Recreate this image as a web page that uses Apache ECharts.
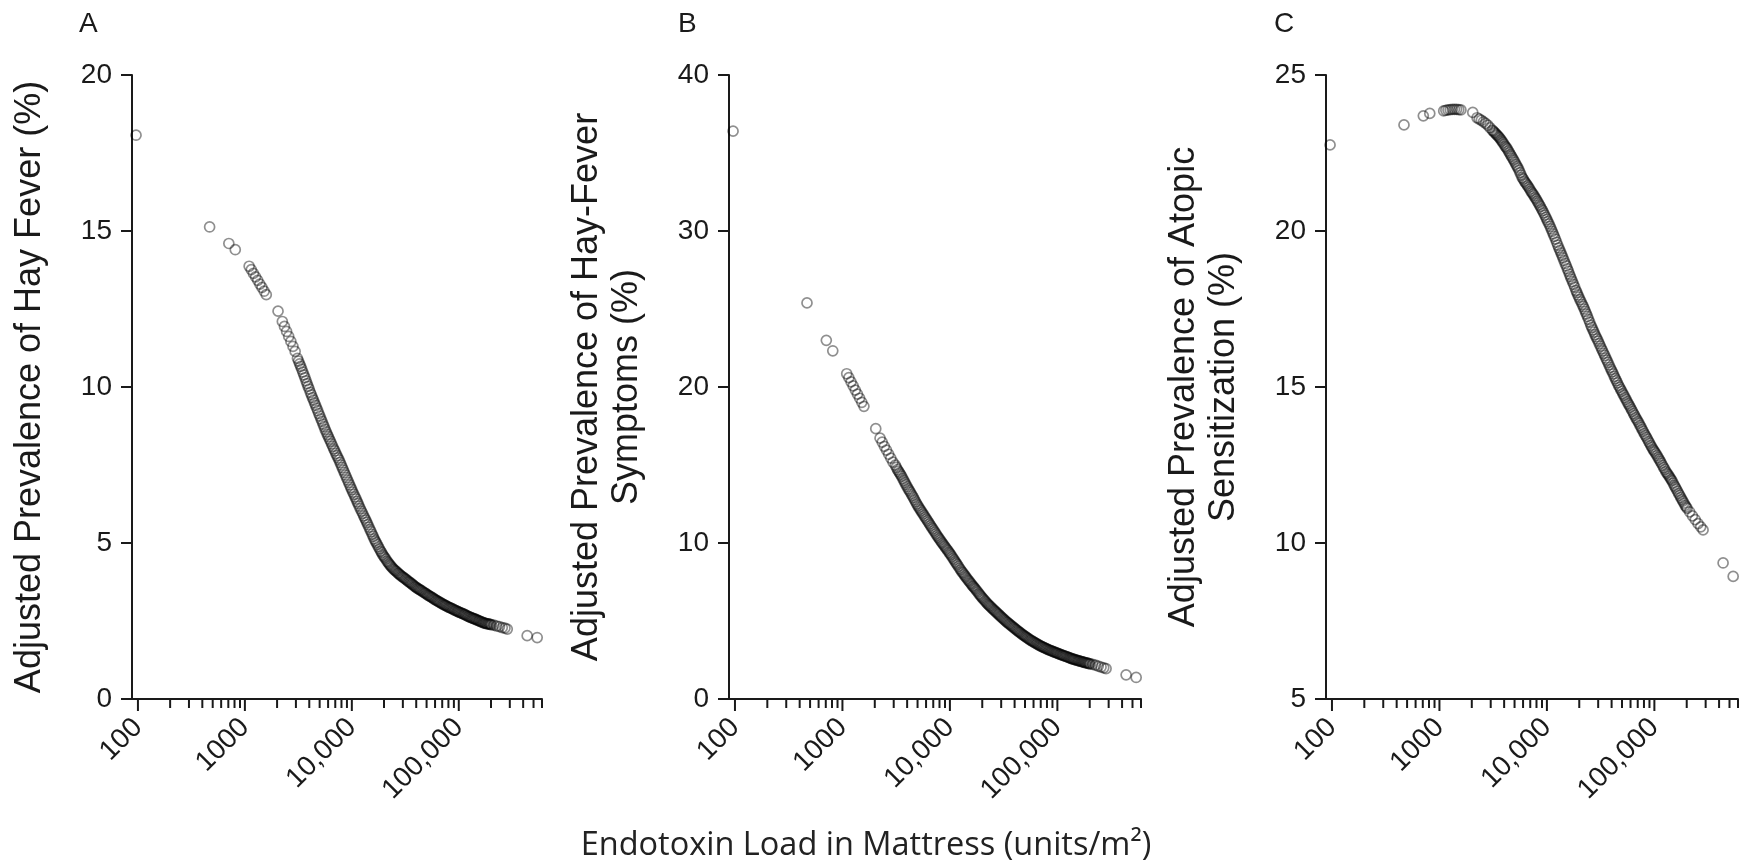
<!DOCTYPE html>
<html><head><meta charset="utf-8">
<script src="https://cdn.jsdelivr.net/npm/echarts@6/dist/echarts.min.js"></script>
<style>html,body{margin:0;padding:0;background:#fff}#c{width:1752px;height:864px}</style>
</head><body><div id="c"></div>
<script>
// Endotoxin load (units/m2), shared by all three panels (same children)
const endotoxin = [96, 468, 708, 813, 1096, 1148, 1202, 1259, 1318, 1380, 1445, 1514, 1585, 2042, 2239, 2344, 2455, 2570, 2692, 2818, 2951,
  3100, 3250, 3400, 3560, 3730, 3900, 4090, 4280, 4480, 4690,
  4910, 5140, 5380, 5630, 5900, 6170, 6460, 6770, 7090, 7420,
  7770, 8130, 8510, 8910, 9330, 9770, 10200, 10700, 11200, 11700,
  12300, 12900, 13500, 14100, 14800, 15500, 16200, 16900, 17700, 18600,
  19400, 20300, 21300, 22300, 23300, 24400, 25600, 26800, 28000, 29300,
  30700, 32200, 33700, 35300, 36900, 38700, 40500, 42400, 44300, 46400,
  48600, 50900, 53300, 55800, 58400, 61100, 64000, 67000, 70200, 73500,
  76900, 80500, 84300, 88300, 92400, 96800, 101000, 106000, 111000, 116000,
  122000, 128000, 134000, 140000, 146000, 153000, 160000, 168000, 176000, 184000,
  193000, 202000,
  213000, 226000, 240000, 255000, 270000, 284000, 436000, 541000,
  3175, 3325, 3480, 3645, 3815, 3995, 4185, 4380, 4585, 4800,
  5025, 5260, 5505, 5765, 6035, 6315, 6615, 6930, 7255, 7595,
  7950, 8320, 8710, 9120, 9550, 9985, 10450, 10950, 11450, 12000,
  12600, 13200, 13800, 14450, 15150, 15850, 16550, 17300, 18150, 19000,
  19850, 20800, 21800, 22800, 23850, 25000, 26200, 27400, 28650, 30000,
  31450, 32950, 34500, 36100, 37800, 39600, 41450, 43350, 45350, 47500,
  49750, 52100, 54550, 57100, 59750, 62550, 65500, 68600, 71850, 75200,
  78700, 82400, 86300, 90350, 94600, 98900, 103500, 108500, 113500, 119000,
  125000, 131000, 137000, 143000, 149500, 156500, 164000, 172000, 180000, 188500,
  197500];

const hayFever = [18.07, 15.13, 14.6, 14.4, 13.87, 13.76, 13.64, 13.53, 13.42, 13.30, 13.19, 13.07, 12.96, 12.43, 12.1, 11.94, 11.78, 11.62, 11.46, 11.3, 11.14,
  10.92, 10.74, 10.57, 10.39, 10.2, 10.02, 9.83, 9.66, 9.49, 9.32,
  9.15, 8.98, 8.81, 8.64, 8.48, 8.33, 8.18, 8.02, 7.87, 7.73,
  7.58, 7.42, 7.26, 7.1, 6.94, 6.78, 6.63, 6.48, 6.33, 6.18,
  6.02, 5.87, 5.73, 5.59, 5.43, 5.28, 5.13, 5.01, 4.88, 4.74,
  4.63, 4.53, 4.42, 4.33, 4.25, 4.17, 4.11, 4.04, 3.99, 3.93,
  3.88, 3.83, 3.77, 3.72, 3.67, 3.61, 3.56, 3.52, 3.48, 3.43,
  3.39, 3.34, 3.30, 3.26, 3.21, 3.17, 3.13, 3.09, 3.05, 3.01,
  2.98, 2.94, 2.91, 2.88, 2.84, 2.81, 2.78, 2.75, 2.72, 2.69,
  2.65, 2.62, 2.59, 2.57, 2.54, 2.51, 2.48, 2.45, 2.43, 2.41,
  2.40, 2.38,
  2.37, 2.34, 2.32, 2.29, 2.27, 2.24, 2.03, 1.97,
  10.83, 10.66, 10.48, 10.3, 10.11, 9.93, 9.75, 9.58, 9.41, 9.24,
  9.07, 8.9, 8.73, 8.56, 8.41, 8.26, 8.1, 7.95, 7.8, 7.66,
  7.5, 7.34, 7.18, 7.02, 6.86, 6.71, 6.56, 6.41, 6.26, 6.1,
  5.95, 5.8, 5.66, 5.51, 5.36, 5.21, 5.07, 4.95, 4.81, 4.69,
  4.58, 4.48, 4.38, 4.29, 4.21, 4.14, 4.08, 4.02, 3.96, 3.91,
  3.86, 3.8, 3.75, 3.7, 3.64, 3.59, 3.54, 3.5, 3.46, 3.41,
  3.37, 3.32, 3.28, 3.24, 3.19, 3.15, 3.11, 3.07, 3.03, 3.0,
  2.96, 2.93, 2.9, 2.86, 2.83, 2.8, 2.77, 2.74, 2.71, 2.67,
  2.64, 2.61, 2.58, 2.56, 2.53, 2.5, 2.47, 2.44, 2.42, 2.41,
  2.39];

const hayFeverSymptoms = [36.4, 25.39, 22.99, 22.32, 20.85, 20.6, 20.33, 20.07, 19.8, 19.54, 19.28, 19.02, 18.76, 17.33, 16.72, 16.46, 16.2, 15.95, 15.69, 15.44, 15.18,
  14.99, 14.71, 14.5, 14.27, 14.0, 13.74, 13.48, 13.26, 13.02, 12.77,
  12.51, 12.28, 12.07, 11.86, 11.64, 11.44, 11.22, 11.0, 10.79, 10.59,
  10.38, 10.18, 9.99, 9.8, 9.61, 9.42, 9.24, 9.02, 8.81, 8.61,
  8.38, 8.17, 7.99, 7.81, 7.62, 7.45, 7.27, 7.12, 6.95, 6.76,
  6.6, 6.44, 6.28, 6.12, 5.98, 5.85, 5.71, 5.58, 5.46, 5.33,
  5.2, 5.07, 4.95, 4.83, 4.72, 4.61, 4.5, 4.39, 4.29, 4.18,
  4.08, 3.98, 3.88, 3.79, 3.71, 3.63, 3.55, 3.47, 3.39, 3.33,
  3.26, 3.2, 3.14, 3.08, 3.02, 2.97, 2.92, 2.86, 2.81, 2.76,
  2.71, 2.65, 2.6, 2.56, 2.52, 2.48, 2.44, 2.4, 2.36, 2.32,
  2.29, 2.25,
  2.22, 2.17, 2.11, 2.05, 2.0, 1.95, 1.55, 1.38,
  14.85, 14.6, 14.38, 14.13, 13.87, 13.61, 13.37, 13.14, 12.9, 12.64,
  12.4, 12.17, 11.96, 11.75, 11.54, 11.33, 11.11, 10.9, 10.69, 10.48,
  10.28, 10.08, 9.9, 9.7, 9.52, 9.33, 9.13, 8.92, 8.71, 8.5,
  8.28, 8.08, 7.9, 7.72, 7.54, 7.36, 7.2, 7.04, 6.86, 6.68,
  6.52, 6.36, 6.2, 6.05, 5.92, 5.78, 5.65, 5.52, 5.4, 5.27,
  5.14, 5.01, 4.89, 4.78, 4.67, 4.56, 4.45, 4.34, 4.24, 4.13,
  4.03, 3.93, 3.84, 3.75, 3.67, 3.59, 3.51, 3.43, 3.36, 3.3,
  3.23, 3.17, 3.11, 3.05, 3.0, 2.95, 2.89, 2.84, 2.79, 2.74,
  2.68, 2.63, 2.58, 2.54, 2.5, 2.46, 2.42, 2.38, 2.34, 2.31,
  2.27];

const atopicSensitization = [22.76, 23.4, 23.69, 23.77, 23.85, 23.87, 23.88, 23.89, 23.9, 23.9, 23.9, 23.89, 23.88, 23.8, 23.63, 23.59, 23.55, 23.5, 23.45, 23.39, 23.31,
  23.23, 23.16, 23.09, 23.02, 22.93, 22.83, 22.72, 22.63, 22.51, 22.39,
  22.27, 22.14, 22.02, 21.87, 21.71, 21.6, 21.5, 21.4, 21.28, 21.18,
  21.07, 20.96, 20.84, 20.71, 20.58, 20.44, 20.3, 20.15, 19.99, 19.83,
  19.64, 19.46, 19.3, 19.14, 18.96, 18.79, 18.62, 18.46, 18.29, 18.1,
  17.95, 17.8, 17.65, 17.5, 17.34, 17.17, 16.98, 16.83, 16.68, 16.54,
  16.39, 16.23, 16.08, 15.93, 15.79, 15.63, 15.49, 15.34, 15.2, 15.05,
  14.92, 14.79, 14.66, 14.53, 14.41, 14.28, 14.15, 14.02, 13.9, 13.77,
  13.64, 13.51, 13.39, 13.26, 13.13, 13.01, 12.91, 12.8, 12.68, 12.56,
  12.42, 12.29, 12.19, 12.09, 11.99, 11.85, 11.73, 11.59, 11.46, 11.34,
  11.21, 11.11,
  11.0, 10.87, 10.75, 10.62, 10.52, 10.42, 9.36, 8.93,
  23.2, 23.13, 23.06, 22.98, 22.88, 22.78, 22.68, 22.57, 22.45, 22.33,
  22.21, 22.08, 21.95, 21.79, 21.66, 21.55, 21.45, 21.34, 21.23, 21.13,
  21.02, 20.9, 20.78, 20.65, 20.51, 20.37, 20.23, 20.07, 19.91, 19.74,
  19.55, 19.38, 19.22, 19.05, 18.88, 18.71, 18.54, 18.38, 18.2, 18.03,
  17.88, 17.73, 17.58, 17.42, 17.26, 17.08, 16.91, 16.76, 16.61, 16.47,
  16.31, 16.16, 16.01, 15.86, 15.71, 15.56, 15.42, 15.27, 15.13, 14.99,
  14.86, 14.73, 14.6, 14.47, 14.35, 14.22, 14.09, 13.96, 13.84, 13.71,
  13.58, 13.45, 13.33, 13.2, 13.07, 12.96, 12.86, 12.74, 12.62, 12.49,
  12.36, 12.24, 12.14, 12.04, 11.92, 11.79, 11.66, 11.53, 11.4, 11.28,
  11.16];

const xMajorTicks = [100, 1000, 10000, 100000];
const xTickLabels = ['100', '1000', '10,000', '100,000'];
const xMinorTicks = [200, 300, 400, 500, 600, 700, 800, 900,
  2000, 3000, 4000, 5000, 6000, 7000, 8000, 9000,
  20000, 30000, 40000, 50000, 60000, 70000, 80000, 90000,
  200000, 300000, 400000, 500000, 600000];
const xMin = 88, xMax = 600000;

const panels = [
  { letter: 'A', yName: 'Adjusted Prevalence of Hay Fever (%)', yMin: 0, yMax: 20, yStep: 5, values: hayFever },
  { letter: 'B', yName: 'Adjusted Prevalence of Hay-Fever\nSymptoms (%)', yMin: 0, yMax: 40, yStep: 10, values: hayFeverSymptoms },
  { letter: 'C', yName: 'Adjusted Prevalence of Atopic\nSensitization (%)', yMin: 5, yMax: 25, yStep: 5, values: atopicSensitization }
];
const xAxisTitle = 'Endotoxin Load in Mattress (units/m²)';

// layout (styling only)
const gridLefts = [132, 729, 1326];
const gridWidths = [410, 412, 412];
const letterLefts = [79, 678, 1274];
const FONT = '"Liberation Sans", Arial, sans-serif';
const INK = '#1a1a1a';

const chart = echarts.init(document.getElementById('c'), null, { renderer: 'canvas' });

const grid = [], xAxis = [], yAxis = [], series = [], graphic = [];
panels.forEach((p, i) => {
  grid.push({ left: gridLefts[i], top: 75, width: gridWidths[i], height: 624, containLabel: false, outerBoundsMode: 'none' });
  xAxis.push({
    type: 'log', gridIndex: i, min: xMin, max: xMax, logBase: 10,
    axisLine: { show: true, lineStyle: { color: INK, width: 2 } },
    axisTick: { show: false },
    splitLine: { show: false },
    axisLabel: {
      rotate: 45, margin: 24, fontSize: 28, fontFamily: FONT, color: INK,
      showMinLabel: false, showMaxLabel: false,
      formatter: v => {
        const k = xMajorTicks.findIndex(t => Math.abs(v - t) / t < 1e-6);
        return k >= 0 ? xTickLabels[k] : '';
      }
    }
  });
  yAxis.push({
    type: 'value', gridIndex: i, min: p.yMin, max: p.yMax, interval: p.yStep,
    name: p.yName, nameLocation: 'middle', nameRotate: 90, nameGap: 82,
    nameTextStyle: { fontSize: 36, fontFamily: FONT, color: INK, lineHeight: 40, align: 'center' },
    axisLine: { show: true, lineStyle: { color: INK, width: 2 } },
    axisTick: { show: true, length: 11, lineStyle: { color: INK, width: 2 } },
    splitLine: { show: false },
    axisLabel: { margin: 20, fontSize: 28, fontFamily: FONT, color: INK }
  });
  series.push({
    type: 'scatter', xAxisIndex: i, yAxisIndex: i,
    data: p.values.map((y, j) => [endotoxin[j], y]),
    symbol: 'circle', symbolSize: 10,
    itemStyle: { color: 'rgba(255,255,255,0)', borderColor: 'rgba(0,0,0,0.55)', borderWidth: 1.7 },
    emphasis: { disabled: true }, silent: true, animation: false
  });
  const tickData = xMajorTicks.map(v => [v, p.yMin, 12]).concat(xMinorTicks.map(v => [v, p.yMin, 9]));
  series.push({
    type: 'custom', xAxisIndex: i, yAxisIndex: i, clip: false, silent: true, animation: false,
    data: tickData,
    renderItem: (params, api) => {
      const pt = api.coord([api.value(0), api.value(1)]);
      const len = api.value(2);
      return { type: 'line', shape: { x1: pt[0], y1: pt[1], x2: pt[0], y2: pt[1] + len },
        style: { stroke: INK, lineWidth: 2 } };
    }
  });
  graphic.push({ type: 'text', left: letterLefts[i], top: 10,
    style: { text: p.letter, font: '28px ' + FONT, fill: INK } });
});
graphic.push({ type: 'text', x: 866, y: 846,
  style: { text: xAxisTitle, font: '32.5px "Open Sans", "Noto Sans", sans-serif', fill: '#222', textAlign: 'center', textVerticalAlign: 'middle' } });

chart.setOption({ backgroundColor: '#fff', animation: false, grid, xAxis, yAxis, series, graphic });
</script></body></html>
